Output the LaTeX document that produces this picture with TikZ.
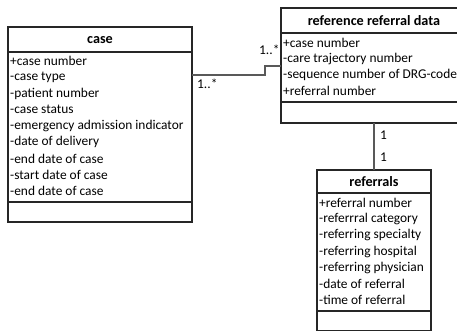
\documentclass[tikz,border=0pt]{standalone}
\usepackage{fontspec}
\setmainfont{Carlito}
\begin{document}
\begin{tikzpicture}[x=1pt,y=-1pt,
  box/.style={draw=black!85, line width=1.1pt, inner sep=0pt, outer sep=0pt},
  sep/.style={draw=black!85, line width=1.1pt},
  attr/.style={anchor=west, inner sep=0pt, font=\fontsize{13.4}{16}\selectfont},
  ttl/.style={inner sep=0pt, font=\fontsize{14.2}{16}\selectfont\bfseries},
  lbl/.style={anchor=west, inner sep=0pt, font=\fontsize{13.4}{16}\selectfont},
  conn/.style={draw=black!65, line width=1.1pt}]
\useasboundingbox (0,0) rectangle (457,331);
\clip (0,0) rectangle (457,331);
% case
\node[box, minimum width=184pt, minimum height=195pt] (case) at (100,124.5) {};
\node[ttl] (caseT) at (100,40) {case};
\draw[sep] (8,52) -- (192,52);
\draw[sep] (8,202) -- (192,202);
\node[attr] (c1) at (10,61) {+case number};
\node[attr] (c2) at (10,77.25) {-case type};
\node[attr] (c3) at (10,93.5) {-patient number};
\node[attr] (c4) at (10,109.75) {-case status};
\node[attr] (c5) at (10,126) {-emergency admission indicator};
\node[attr] (c6) at (10,142.25) {-date of delivery};
\node[attr] (c7) at (10,158.5) {-end date of case};
\node[attr] (c8) at (10,174.75) {-start date of case};
\node[attr] (c9) at (10,191) {-end date of case};
% reference referral data
\node[box, minimum width=186pt, minimum height=115pt] (ref) at (374,65.5) {};
\node[ttl] (refT) at (374,20.5) {reference referral data};
\draw[sep] (281,33) -- (467,33);
\draw[sep] (281,102) -- (467,102);
\node[attr] (r1) at (283,43) {+case number};
\node[attr] (r2) at (283,59) {-care trajectory number};
\node[attr] (r3) at (283,75) {-sequence number of DRG-code};
\node[attr] (r4) at (283,91) {+referral number};
% referrals
\node[box, minimum width=114pt, minimum height=161pt] (refl) at (374,250.5) {};
\node[ttl] (reflT) at (374,181.5) {referrals};
\draw[sep] (317,193) -- (431,193);
\draw[sep] (317,311) -- (431,311);
\node[attr] (f1) at (319,203) {+referral number};
\node[attr] (f2) at (319,219.2) {-referrral category};
\node[attr] (f3) at (319,235.4) {-referring specialty};
\node[attr] (f4) at (319,251.6) {-referring hospital};
\node[attr] (f5) at (319,267.8) {-referring physician};
\node[attr] (f6) at (319,284) {-date of referral};
\node[attr] (f7) at (319,300.2) {-time of referral};
% connectors
\draw[conn] (case.east |- 0,75) -- (265,75) -- (265,66) -- (ref.west |- 0,66);
\draw[conn] (ref.south) -- (refl.north);
\node[lbl] (m1) at (197,84) {1..*};
\node[lbl] (m2) at (259,50) {1..*};
\node[lbl] (m3) at (380,135) {1};
\node[lbl] (m4) at (380,157) {1};
\end{tikzpicture}
\end{document}
